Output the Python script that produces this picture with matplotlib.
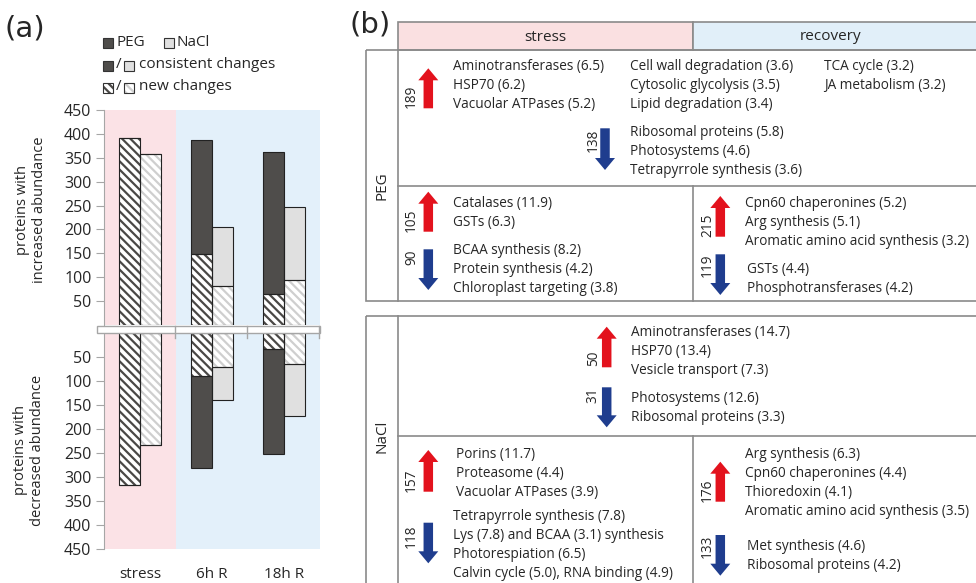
import matplotlib
matplotlib.use("Agg")
import matplotlib.pyplot as plt
from matplotlib.patches import Rectangle, FancyArrow
import numpy as np

plt.rcParams['font.family'] = ['Open Sans', 'DejaVu Sans']
plt.rcParams['hatch.linewidth'] = 1.6

W, H = 976, 583

# ---------------- panel (a) data ----------------
categories = ['stress', '6h R', '18h R']
peg_up_total = [392, 388, 362]
peg_up_new = [392, 149, 65]
nacl_up_total = [358, 206, 248]
nacl_up_new = [358, 81, 94]
peg_down_total = [316, 282, 253]
peg_down_new = [316, 89, 33]
nacl_down_total = [234, 140, 173]
nacl_down_new = [234, 70, 65]
y_ticks = [50, 100, 150, 200, 250, 300, 350, 400, 450]

# ---------------- panel (b) data ----------------
b_headers = ['stress', 'recovery']
b_rows = ['PEG', 'NaCl']
peg_top_up_n = 189
peg_top_up_terms = ['Aminotransferases (6.5)', 'HSP70 (6.2)', 'Vacuolar ATPases (5.2)',
                    'Cell wall degradation (3.6)', 'Cytosolic glycolysis (3.5)', 'Lipid degradation (3.4)',
                    'TCA cycle (3.2)', 'JA metabolism (3.2)']
peg_top_down_n = 138
peg_top_down_terms = ['Ribosomal proteins (5.8)', 'Photosystems (4.6)', 'Tetrapyrrole synthesis (3.6)']
peg_left_up_n = 105
peg_left_up_terms = ['Catalases (11.9)', 'GSTs (6.3)']
peg_left_down_n = 90
peg_left_down_terms = ['BCAA synthesis (8.2)', 'Protein synthesis (4.2)', 'Chloroplast targeting (3.8)']
peg_right_up_n = 215
peg_right_up_terms = ['Cpn60 chaperonines (5.2)', 'Arg synthesis (5.1)', 'Aromatic amino acid synthesis (3.2)']
peg_right_down_n = 119
peg_right_down_terms = ['GSTs (4.4)', 'Phosphotransferases (4.2)']
nacl_top_up_n = 50
nacl_top_up_terms = ['Aminotransferases (14.7)', 'HSP70 (13.4)', 'Vesicle transport (7.3)']
nacl_top_down_n = 31
nacl_top_down_terms = ['Photosystems (12.6)', 'Ribosomal proteins (3.3)']
nacl_left_up_n = 157
nacl_left_up_terms = ['Porins (11.7)', 'Proteasome (4.4)', 'Vacuolar ATPases (3.9)']
nacl_left_down_n = 118
nacl_left_down_terms = ['Tetrapyrrole synthesis (7.8)', 'Lys (7.8) and BCAA (3.1) synthesis',
                        'Photorespiation (6.5)', 'Calvin cycle (5.0), RNA binding (4.9)']
nacl_right_up_n = 176
nacl_right_up_terms = ['Arg synthesis (6.3)', 'Cpn60 chaperonines (4.4)', 'Thioredoxin (4.1)',
                       'Aromatic amino acid synthesis (3.5)']
nacl_right_down_n = 133
nacl_right_down_terms = ['Met synthesis (4.6)', 'Ribosomal proteins (4.2)']

# ---------------- styles ----------------
PINK = '#fbe2e6'
BLUE = '#e3f0fa'
HDR_PINK = '#fae0e1'
HDR_BLUE = '#e1eff9'
PEG_DARK = '#4f4d4b'
NACL_LIGHT = '#e0e0e0'
PEG_HATCH = '#4a4846'
NACL_HATCH = '#cfcfcf'
GRID_GRAY = '#8a8a8a'
RED = '#e3121d'
NAVY = '#1f3d8e'
TXT = '#262626'
HATCH = '\\\\\\\\'

fig = plt.figure(figsize=(W / 100, H / 100), dpi=100)


def frac(x0, y0, x1, y1):
    return [x0 / W, 1 - y1 / H, (x1 - x0) / W, (y1 - y0) / H]


ax_up = fig.add_axes(frac(104, 110, 320, 325))
ax_dn = fig.add_axes(frac(104, 333, 320, 549))

x = np.arange(len(categories))
bw = 0.287
off = 0.144


def draw_bars(ax, total, new, xpos, solid_col, hatch_col):
    total = np.array(total)
    new = np.array(new)
    ax.bar(xpos, new, bw, color='white', edgecolor=hatch_col, hatch=HATCH, linewidth=0, zorder=2)
    ax.bar(xpos, total - new, bw, bottom=new, color=solid_col, linewidth=0, zorder=2)
    ax.bar(xpos, new, bw, fill=False, edgecolor='#222222', linewidth=0.8, zorder=3)
    ax.bar(xpos, total - new, bw, bottom=new, fill=False, edgecolor='#222222', linewidth=0.8, zorder=3)


for ax, pt, pn, nt, nn in [(ax_up, peg_up_total, peg_up_new, nacl_up_total, nacl_up_new),
                           (ax_dn, peg_down_total, peg_down_new, nacl_down_total, nacl_down_new)]:
    ax.axvspan(-0.5, 0.5, color=PINK, lw=0, zorder=0)
    ax.axvspan(0.5, 2.5, color=BLUE, lw=0, zorder=0)
    draw_bars(ax, pt, pn, x - off, PEG_DARK, PEG_HATCH)
    draw_bars(ax, nt, nn, x + off, NACL_LIGHT, NACL_HATCH)
    ax.set_xlim(-0.5, 2.5)
    ax.set_yticks(y_ticks)
    ax.tick_params(axis='y', length=6, color='#a6a6a6', labelsize=11.5, labelcolor=TXT, pad=3)
    for s in ['top', 'right', 'bottom']:
        ax.spines[s].set_visible(False)
    ax.spines['left'].set_color('#a6a6a6')
    ax.set_facecolor('none')

ax_up.set_ylim(0, 450)
ax_up.set_xticks([])
ax_dn.set_ylim(450, 0)
ax_dn.set_xticks(x, categories)
ax_dn.tick_params(axis='x', length=0, pad=13, labelsize=11, labelcolor=TXT)

# ---------------- overlay (pixel coordinates) ----------------
ov = fig.add_axes([0, 0, 1, 1])
ov.set_xlim(0, W)
ov.set_ylim(H, 0)
ov.axis('off')
ov.patch.set_alpha(0)

# axis break band
ov.add_patch(Rectangle((97, 326), 223, 6.5, fc='white', ec='#a6a6a6', lw=1, zorder=5))
for xb in [175, 247, 319]:
    ov.plot([xb, xb], [326, 338], color='#a6a6a6', lw=1, zorder=6)

ov.text(25, 29, '(a)', fontsize=21, ha='center', va='center', color=TXT, family='DejaVu Sans')
ov.text(370, 25, '(b)', fontsize=21, ha='center', va='center', color=TXT, family='DejaVu Sans')

# y labels panel a
ov.text(31, 210, 'proteins with\nincreased abundance', rotation=90, ha='center', va='center',
        fontsize=10.5, color=TXT, multialignment='center', linespacing=1.15)
ov.text(29, 450, 'proteins with\ndecreased abundance', rotation=90, ha='center', va='center',
        fontsize=10.5, color=TXT, multialignment='center', linespacing=1.15)

# legend panel a
LFS = 11
def sq(x0, yc, fc, hatch=None, hc=None):
    if hatch:
        ov.add_patch(Rectangle((x0, yc - 5), 10, 10, fc='white', ec=hc, hatch=hatch, lw=0, zorder=4))
        ov.add_patch(Rectangle((x0, yc - 5), 10, 10, fill=False, ec='#333333', lw=0.8, zorder=5))
    else:
        ov.add_patch(Rectangle((x0, yc - 5), 10, 10, fc=fc, ec='#333333', lw=0.8, zorder=4))

sq(103, 43, PEG_DARK)
ov.text(117, 42, 'PEG', fontsize=LFS, va='center', ha='left', color=TXT)
sq(164, 43, NACL_LIGHT)
ov.text(177, 42, 'NaCl', fontsize=LFS, va='center', ha='left', color=TXT)
sq(103, 66, PEG_DARK)
ov.text(118.5, 65, '/', fontsize=LFS, va='center', ha='center', color=TXT)
sq(124, 66, NACL_LIGHT)
ov.text(139, 65, 'consistent changes', fontsize=LFS, va='center', ha='left', color=TXT)
sq(103, 88, None, hatch=HATCH, hc=PEG_HATCH)
ov.text(118.5, 87, '/', fontsize=LFS, va='center', ha='center', color=TXT)
sq(124, 88, None, hatch=HATCH, hc=NACL_HATCH)
ov.text(139, 87, 'new changes', fontsize=LFS, va='center', ha='left', color=TXT)

# ---------------- panel (b) ----------------
XR = 1000
LX, CX, MX = 366, 398.3, 693.3
ov.add_patch(Rectangle((CX, 21.7), MX - CX, 28.3, fc=HDR_PINK, ec=GRID_GRAY, lw=1.2))
ov.add_patch(Rectangle((MX, 21.7), XR - MX, 28.3, fc=HDR_BLUE, ec=GRID_GRAY, lw=1.2))
ov.text((CX + MX) / 2, 37.5, b_headers[0], fontsize=11, ha='center', va='center', color=TXT)
ov.text(831, 37, b_headers[1], fontsize=11, ha='center', va='center', color=TXT)

for top, mid, bot, label, ly in [(50, 185.7, 300.7, b_rows[0], 186), (315.7, 436, 620, b_rows[1], 436.7)]:
    ov.add_patch(Rectangle((LX, top), XR - LX, bot - top, fill=False, ec=GRID_GRAY, lw=1.2))
    ov.plot([CX, CX], [top, bot], color=GRID_GRAY, lw=1.2)
    ov.plot([CX, XR], [mid, mid], color=GRID_GRAY, lw=1.2)
    ov.plot([MX, MX], [mid, bot], color=GRID_GRAY, lw=1.2)
    ov.text((LX + CX) / 2, ly, label, rotation=90, fontsize=11, ha='center', va='center', color=TXT)

FS = 9.8
STEP = 19
DY = 1.5


def arrow(xc, y_tail, y_tip, color):
    ov.add_patch(FancyArrow(xc, y_tail, 0, y_tip - y_tail, width=9.5, head_width=20,
                            head_length=12, length_includes_head=True, color=color, lw=0))


def group(n, terms, ax_x, y_tail, y_tip, color, num_x, num_y, tx, ty, col_dx=None):
    arrow(ax_x, y_tail, y_tip, color)
    ov.text(num_x, num_y, str(n), rotation=90, fontsize=FS, ha='center', va='center', color=TXT)
    for i, t in enumerate(terms):
        col = i // 3 if col_dx else 0
        row = i % 3 if col_dx else i
        xx = tx + (col_dx[col] if col_dx else 0)
        ov.text(xx, ty + DY + STEP * row, t, fontsize=FS, ha='left', va='center', color=TXT)


group(peg_top_up_n, peg_top_up_terms, 428.3, 108.3, 68.3, RED, 411.7, 96.7, 452.7, 65, col_dx=[0, 177.3, 371])
group(peg_top_down_n, peg_top_down_terms, 605, 128.3, 170, NAVY, 593.3, 140, 630, 131)
group(peg_left_up_n, peg_left_up_terms, 428.3, 231.7, 191.7, RED, 411.7, 220, 452.7, 201.7)
group(peg_left_down_n, peg_left_down_terms, 428.3, 249.3, 290, NAVY, 411.7, 257, 452.7, 249)
group(peg_right_up_n, peg_right_up_terms, 720.3, 236.7, 196, RED, 707.7, 225, 745, 202)
group(peg_right_down_n, peg_right_down_terms, 720.3, 254.3, 295, NAVY, 707.7, 265, 746.7, 268.3)

group(nacl_top_up_n, nacl_top_up_terms, 606.7, 367.3, 326.7, RED, 593.3, 358.3, 630.7, 330.7)
group(nacl_top_down_n, nacl_top_down_terms, 606.7, 387.3, 427.3, NAVY, 593.3, 395, 630.7, 396.7)
group(nacl_left_up_n, nacl_left_up_terms, 428.3, 491.7, 450, RED, 411.7, 480, 455.7, 453.3)
group(nacl_left_down_n, nacl_left_down_terms, 428.3, 522.7, 563.3, NAVY, 411.7, 536.7, 452.7, 515)
group(nacl_right_up_n, nacl_right_up_terms, 720.3, 501.7, 461.7, RED, 707.7, 490, 745, 452.7)
group(nacl_right_down_n, nacl_right_down_terms, 720.3, 535, 575.7, NAVY, 707.7, 546.7, 746.7, 545)

fig.savefig('out.png', dpi=100)
